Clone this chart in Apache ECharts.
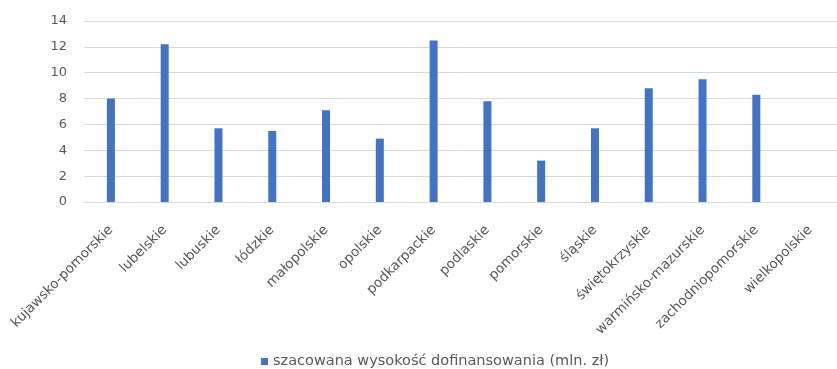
<!DOCTYPE html>
<html>
<head>
<meta charset="utf-8">
<script src="https://cdn.jsdelivr.net/npm/echarts@6/dist/echarts.min.js"></script>
<style>
  html, body { margin: 0; padding: 0; background: #fff; }
  #main { width: 837px; height: 369px; }
</style>
</head>
<body>
<div id="main"></div>
<script>
// województwa
var categories = [
  "kujawsko-pomorskie", "lubelskie", "lubuskie", "łódzkie", "małopolskie",
  "opolskie", "podkarpackie", "podlaskie", "pomorskie", "śląskie",
  "świętokrzyskie", "warmińsko-mazurskie", "zachodniopomorskie", "wielkopolskie"
];
var values = [8.0, 12.2, 5.7, 5.5, 7.1, 4.9, 12.5, 7.8, 3.2, 5.7, 8.8, 9.5, 8.3, 0];
var seriesName = "szacowana wysokość dofinansowania (mln. zł)";
var yTicks = [0, 2, 4, 6, 8, 10, 12, 14];

var myChart = echarts.init(document.getElementById("main"));
var font = "DejaVu Sans";

var option = {
  animation: false,
  backgroundColor: "#ffffff",
  grid: { left: 84, right: 0, top: 21, bottom: 167 },
  legend: {
    bottom: -5,
    left: 256,
    itemWidth: 7,
    itemHeight: 7,
    itemGap: 6,
    icon: "rect",
    textStyle: { color: "#595959", fontFamily: font, fontSize: 14.5 },
    data: [seriesName]
  },
  xAxis: {
    type: "category",
    data: categories,
    axisTick: { show: false },
    axisLine: { lineStyle: { color: "#d9d9d9" } },
    axisLabel: {
      interval: 0,
      rotate: 45,
      color: "#595959",
      fontFamily: font,
      fontSize: 13.5,
      margin: 26
    }
  },
  yAxis: {
    type: "value",
    min: yTicks[0],
    max: yTicks[yTicks.length - 1],
    interval: 2,
    axisLine: { show: false },
    axisTick: { show: false },
    splitLine: { lineStyle: { color: "#d9d9d9" } },
    axisLabel: { color: "#595959", fontFamily: font, fontSize: 13, margin: 17 }
  },
  series: [
    {
      name: seriesName,
      type: "bar",
      data: values,
      barWidth: 8,
      itemStyle: { color: "#4472c4" }
    }
  ]
};
myChart.setOption(option);
</script>
</body>
</html>
